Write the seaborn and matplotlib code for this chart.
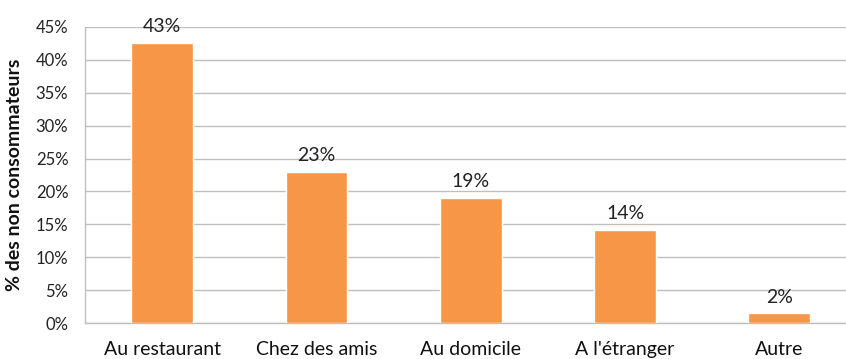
import math
import matplotlib
matplotlib.use("Agg")
import matplotlib.pyplot as plt
import seaborn as sns
import pandas as pd

categories = ["Au restaurant", "Chez des amis", "Au domicile", "A l'étranger", "Autre"]
values = [42.5, 23.0, 19.0, 14.2, 1.5]
y_ticks = [0, 5, 10, 15, 20, 25, 30, 35, 40, 45]
y_label = "% des non consommateurs"

df = pd.DataFrame({"lieu": categories, "pct": values})

sns.set_theme(style="white")
plt.rcParams["font.family"] = ["Lato", "DejaVu Sans"]

fig = plt.figure(figsize=(8.46, 3.59), dpi=100)
ax = fig.add_axes([85 / 846, 35.7 / 359, 771.5 / 846, 296.6 / 359])

sns.barplot(data=df, x="lieu", y="pct", color="#F79646", saturation=1,
            width=0.4, ax=ax, zorder=3)

grid_color = "#BFBFBF"
ax.set_ylim(0, 45)
ax.set_xlim(-0.5, len(categories) - 0.5)
ax.set_yticks(y_ticks)
ax.set_yticklabels([f"{t}%" for t in y_ticks], fontsize=12, color="#222222")
ax.yaxis.grid(True, color=grid_color, linewidth=1, zorder=0)
ax.set_axisbelow(True)

# category boundaries carry the tick marks, centres carry the names
ax.set_xticks([i - 0.5 for i in range(len(categories) + 1)], minor=False)
ax.set_xticklabels([""] * (len(categories) + 1))
ax.set_xticks(range(len(categories)), minor=True)
ax.set_xticklabels(categories, minor=True, fontsize=14, color="#111111")
ax.tick_params(axis="x", which="major", length=7, width=1, color=grid_color, direction="out")
ax.tick_params(axis="x", which="minor", length=0, pad=13)
ax.tick_params(axis="y", length=6, width=1, color=grid_color, direction="out", pad=6)

for side in ["top", "right"]:
    ax.spines[side].set_visible(False)
for side in ["left", "bottom"]:
    ax.spines[side].set_color(grid_color)
    ax.spines[side].set_linewidth(1)

ax.set_xlabel("")
ax.set_ylabel(y_label, fontsize=14, fontweight="bold", color="#111111", labelpad=9)

for i, v in enumerate(values):
    ax.text(i, v + 1.2, f"{math.floor(v + 0.5)}%", ha="center", va="bottom",
            fontsize=14, color="#222222")

fig.savefig("out.png", dpi=100)
